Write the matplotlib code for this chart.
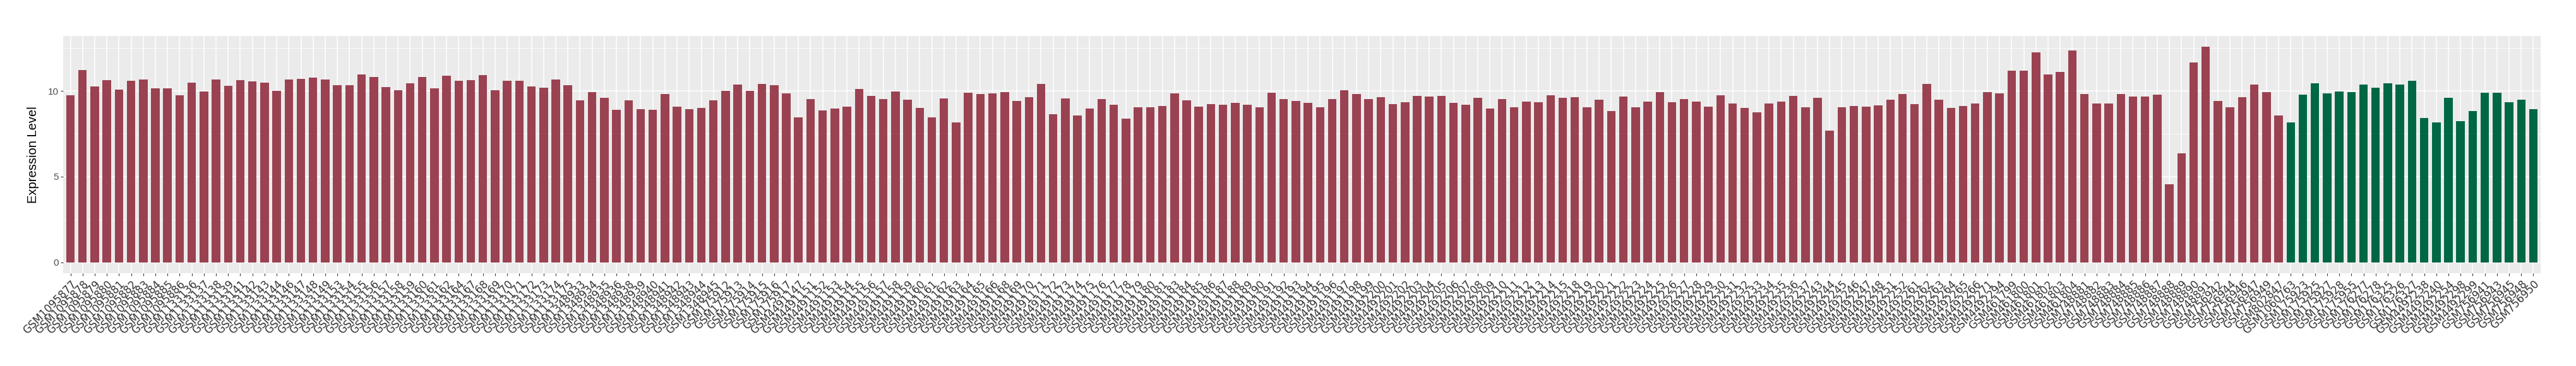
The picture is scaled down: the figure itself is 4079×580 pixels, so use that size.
import numpy as np
import matplotlib
matplotlib.use('Agg')
import matplotlib.pyplot as plt
from matplotlib.ticker import FixedLocator

# образцы первой группы (красные столбцы)
tumor_labels = (
    ['GSM10958%02d' % i for i in range(77, 87)]
    + ['GSM1133%d' % i for i in [136, 137, 138, 139, 141, 142, 143, 144, 146, 147, 148, 149,
                                 153, 154, 155, 156, 157, 158, 159, 160, 161, 162, 164, 167,
                                 168, 169, 170, 171, 172, 173, 174, 175]]
    + ['GSM1348%d' % i for i in [933, 934, 935, 936, 938, 939, 940, 941, 942, 943, 944, 945]]
    + ['GSM1759%d' % i for i in [12, 13, 14, 15, 16, 17]]
    + ['GSM4491%d' % i for i in [147] + list(range(151, 167)) + list(range(168, 182))
       + list(range(183, 200))]
    + ['GSM4492%d' % i for i in list(range(200, 216)) + list(range(218, 238))
       + list(range(243, 249)) + [251, 252] + list(range(261, 267)) + [271, 294]]
    + ['GSM461%d' % i for i in [799, 800, 801, 802, 803, 804]]
    + ['GSM748%d' % i for i in range(881, 892)]
    + ['GSM756%d' % i for i in [942, 944, 946, 947, 949]]
    + ['GSM802847']
)

tumor_values = [
    9.73, 11.20, 10.27, 10.64, 10.08, 10.60, 10.67, 10.16, 10.16, 9.73,
    10.49, 9.97, 10.67, 10.30, 10.64, 10.56, 10.49, 10.01, 10.67, 10.71, 10.78, 10.67,
    10.34, 10.34, 10.97, 10.82, 10.23, 10.04, 10.45, 10.82, 10.16, 10.90, 10.60, 10.64,
    10.93, 10.04, 10.60, 10.60, 10.27, 10.19, 10.67, 10.34,
    9.46, 9.93, 9.61, 8.91, 9.46, 8.94, 8.91, 9.82, 9.09, 8.94, 9.02, 9.46,
    10.01, 10.38, 10.01, 10.41, 10.34, 9.86,
    8.46, 9.54, 8.87, 8.98, 9.09, 10.12, 9.71, 9.54, 9.97, 9.50, 9.02, 8.46, 9.56, 8.18,
    9.90, 9.82, 9.86, 9.93, 9.41, 9.65, 10.41, 8.65, 9.56, 8.57, 8.98, 9.54, 9.20, 8.39,
    9.05, 9.05, 9.13, 9.86, 9.46, 9.09, 9.24, 9.20, 9.31, 9.20, 9.05, 9.90, 9.54, 9.41,
    9.31, 9.05, 9.54, 10.04, 9.82, 9.54,
    9.65, 9.24, 9.35, 9.71, 9.67, 9.71, 9.31, 9.20, 9.61, 8.98, 9.54, 9.05, 9.39, 9.35,
    9.76, 9.61, 9.65, 9.05, 9.50, 8.83, 9.67, 9.05, 9.39, 9.93, 9.35, 9.54, 9.39, 9.09,
    9.76, 9.28, 9.02, 8.76, 9.28, 9.39, 9.71, 9.05, 9.61, 7.69, 9.05, 9.13, 9.09, 9.17,
    9.50, 9.82, 9.24, 10.41, 9.50, 9.02, 9.13, 9.28, 9.93, 9.86,
    11.16, 11.18, 12.26, 10.97, 11.12, 12.37,
    9.82, 9.28, 9.28, 9.82, 9.67, 9.67, 9.78, 4.57, 6.37, 11.66, 12.59,
    9.41, 9.05, 9.65, 10.38, 9.93,
    8.57,
]

# образцы второй группы (зелёные столбцы)
normal_labels = [
    'GSM1060763', 'GSM175923', 'GSM175925', 'GSM175927', 'GSM175928', 'GSM175955',
    'GSM176277', 'GSM176278', 'GSM176325', 'GSM176326', 'GSM176327',
    'GSM4492238', 'GSM4492240', 'GSM4492254', 'GSM4492298', 'GSM4492299',
    'GSM756941', 'GSM756943', 'GSM756945', 'GSM756948', 'GSM756950',
]
normal_values = [
    8.18, 9.78, 10.45, 9.86, 9.97, 9.93, 10.38, 10.19, 10.45, 10.38, 10.60,
    8.42, 8.18, 9.61, 8.24, 8.83, 9.90, 9.90, 9.35, 9.50, 8.94,
]

tumor_color = '#9A4251'
normal_color = '#006744'

labels = tumor_labels + normal_labels
values = np.array(tumor_values + normal_values)
colors = [tumor_color] * len(tumor_values) + [normal_color] * len(normal_values)
n = len(labels)
x = np.arange(n)

fig = plt.figure(figsize=(40.8, 5.8), dpi=100)
W, H = 4080, 580
ax = fig.add_axes([100 / W, (H - 433) / H, 3923 / W, 376.5 / H])
ax.set_facecolor('#EBEBEB')

ax.bar(x, values, width=0.7, color=colors, zorder=3)

# оси в стиле ggplot (расширение 5% / 0.6)
ymax = values.max()
ax.set_ylim(-0.05 * ymax, 1.05 * ymax)
ax.set_xlim(-0.6, n - 1 + 0.6)

ax.set_yticks([0, 5, 10])
ax.yaxis.set_minor_locator(FixedLocator([2.5, 7.5, 12.5]))
ax.grid(True, which='major', color='white', linewidth=1.1, zorder=0)
ax.grid(True, which='minor', axis='y', color='white', linewidth=0.55, zorder=0)
ax.set_axisbelow(True)

ax.set_xticks(x)
ax.set_xticklabels(labels, rotation=45, ha='right', va='top', rotation_mode='anchor',
                   fontsize=12, family='DejaVu Sans', color='#1A1A1A')
for lab in ax.get_yticklabels():
    lab.set_family('Liberation Sans')
ax.tick_params(axis='y', labelsize=11, colors='#333333', labelcolor='#4D4D4D',
               length=3, width=0.8, pad=2)
ax.tick_params(axis='x', colors='#333333', length=3, width=0.8, pad=3)
ax.tick_params(which='minor', length=0)

for s in ax.spines.values():
    s.set_visible(False)

ax.set_ylabel('Expression Level', fontsize=14.5, family='Liberation Sans', labelpad=10)

fig.savefig('out.png', dpi=100)
